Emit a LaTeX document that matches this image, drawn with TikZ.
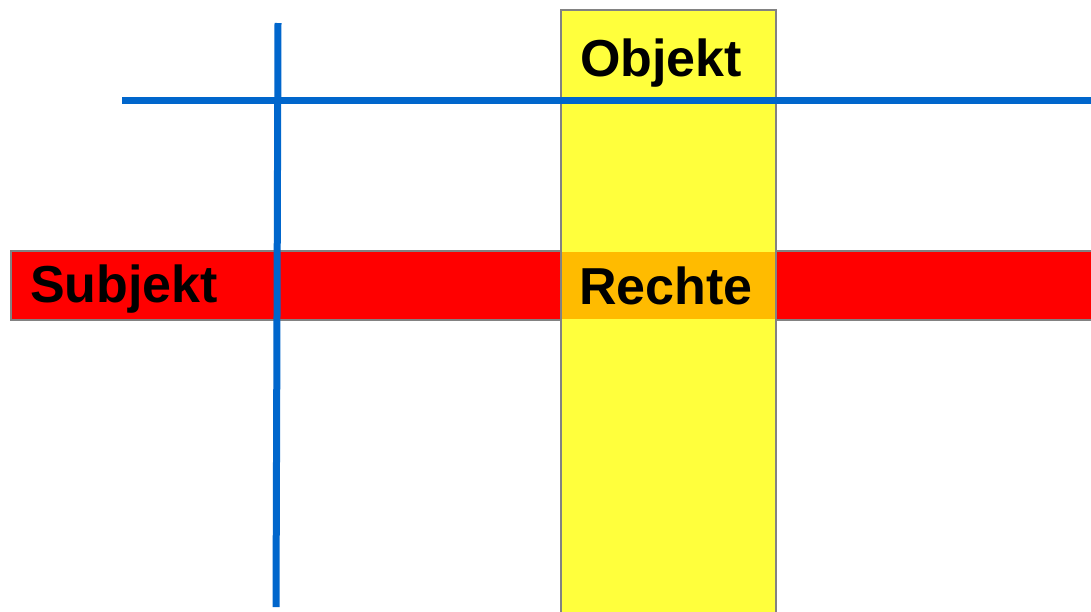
\documentclass[tikz,border=0pt]{standalone}
\usepackage{fontspec}
\setmainfont{Liberation Sans}
\definecolor{bandred}{RGB}{255,0,0}
\definecolor{bandyellow}{RGB}{255,255,60}
\definecolor{bandorange}{RGB}{255,187,0}
\definecolor{axisblue}{RGB}{0,102,204}
\definecolor{edgegray}{RGB}{130,130,130}
\tikzset{
  band/.style={draw=edgegray, line width=1.3pt},
  axisline/.style={draw=axisblue, line width=7pt},
  label/.style={anchor=base west, inner sep=0pt, font=\bfseries\fontsize{52}{52}\selectfont}
}
\begin{document}
\begin{tikzpicture}[x=1pt, y=-1pt]
  \useasboundingbox (0,0) rectangle (1091,611);
  % subject row and object column
  \fill[bandred] (11,251) rectangle (1100,320);
  \draw[band] (1100,251) -- (11,251) -- (11,320) -- (1100,320);
  \fill[bandyellow] (561,10) rectangle (776,620);
  \draw[band] (561,620) -- (561,10) -- (776,10) -- (776,620);
  % rights at the crossing
  \fill[bandorange] (561.7,251.7) rectangle (775.3,319.3);
  % axes
  \coordinate (hl) at (122,100);
  \coordinate (hr) at (1095,100);
  \coordinate (vt) at (278,23);
  \coordinate (vb) at (276,607);
  \draw[axisline] (hl) -- (hr);
  \draw[axisline] (vt) -- (vb);
  % labels
  \node[label] (objekt) at (580,76) {Objekt};
  \node[label] (subjekt) at (30,302) {Subjekt};
  \node[label] (rechte) at (579,304) {Rechte};
\end{tikzpicture}
\end{document}
